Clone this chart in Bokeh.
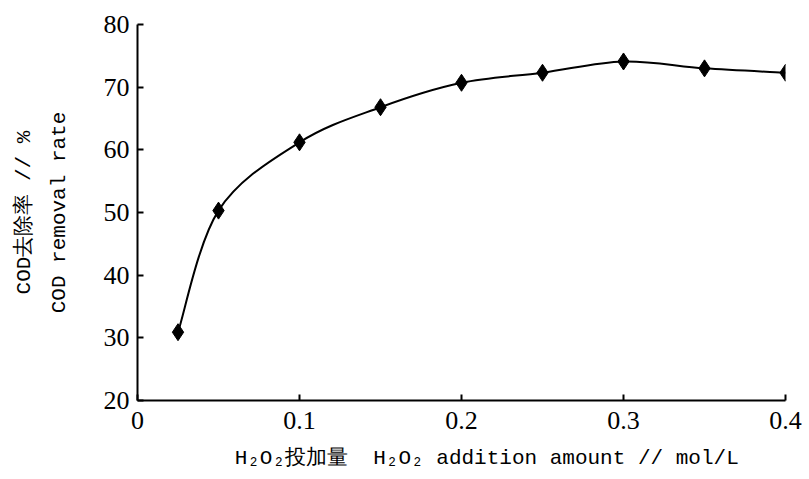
from bokeh.plotting import figure
from bokeh.models import Range1d, FixedTicker
from bokeh.embed import file_html
from bokeh.resources import INLINE

# data
dose = [0.025, 0.05, 0.1, 0.15, 0.2, 0.25, 0.3, 0.35, 0.4]
removal = [30.9, 50.3, 61.2, 66.8, 70.7, 72.3, 74.1, 73.0, 72.3]
x_ticks = [0, 0.1, 0.2, 0.3, 0.4]
y_ticks = [20, 30, 40, 50, 60, 70, 80]
NB = "\u00a0"
x_label = NB * 4 + "H\u2082O\u2082投加量" + NB * 2 + "H\u2082O\u2082 addition amount // mol/L"
y_label = "COD去除率 // %\nCOD removal rate"

p = figure(width=809, height=479, output_backend="svg", toolbar_location=None,
           x_range=Range1d(0, 0.4), y_range=Range1d(20, 80),
           min_border_left=137, min_border_right=24, min_border_top=24, min_border_bottom=79)
p.outline_line_color = None
p.xgrid.visible = False
p.ygrid.visible = False
p.background_fill_color = "white"
p.border_fill_color = "white"

# smooth curve (Catmull-Rom -> cubic Bezier) built from the data
n = len(dose)
x0, y0, x1, y1, cx0, cy0, cx1, cy1 = [], [], [], [], [], [], [], []
for i in range(n - 1):
    xm, ym = (dose[i - 1], removal[i - 1]) if i > 0 else (dose[i], removal[i])
    xa, ya = dose[i], removal[i]
    xb, yb = dose[i + 1], removal[i + 1]
    xp, yp = (dose[i + 2], removal[i + 2]) if i + 2 < n else (xb, yb)
    x0.append(xa); y0.append(ya); x1.append(xb); y1.append(yb)
    cx0.append(xa + (xb - xm) / 6); cy0.append(ya + (yb - ym) / 6)
    cx1.append(xb - (xp - xa) / 6); cy1.append(yb - (yp - ya) / 6)
p.bezier(x0=x0, y0=y0, x1=x1, y1=y1, cx0=cx0, cy0=cy0, cx1=cx1, cy1=cy1,
         line_color="black", line_width=2)
p.scatter(dose, removal, marker="diamond", size=17, fill_color="black", line_color="black")

for ax in (p.xaxis[0], p.yaxis[0]):
    ax.axis_line_width = 2
    ax.axis_line_color = "black"
    ax.major_tick_in = 6
    ax.major_tick_out = 0
    ax.major_tick_line_width = 2
    ax.major_tick_line_color = "black"
    ax.minor_tick_line_color = None
    ax.major_label_text_font = "Liberation Serif"
    ax.major_label_text_font_size = "26px"
    ax.major_label_text_color = "black"
    ax.axis_label_text_font = "Liberation Mono"
    ax.axis_label_text_font_size = "21px"
    ax.axis_label_text_font_style = "normal"
    ax.axis_label_text_color = "black"
    ax.axis_label_text_line_height = 1.5

p.xaxis.ticker = FixedTicker(ticks=x_ticks)
p.yaxis.ticker = FixedTicker(ticks=y_ticks)
p.xaxis.major_label_overrides = {0: "0", 0.1: "0.1", 0.2: "0.2", 0.3: "0.3", 0.4: "0.4"}
p.xaxis.major_label_standoff = 11
p.yaxis.major_label_standoff = 8
p.xaxis.axis_label = x_label
p.yaxis.axis_label = y_label
p.xaxis.axis_label_standoff = 15
p.yaxis.axis_label_standoff = 30

open("out.html", "w").write(file_html(p, INLINE))
